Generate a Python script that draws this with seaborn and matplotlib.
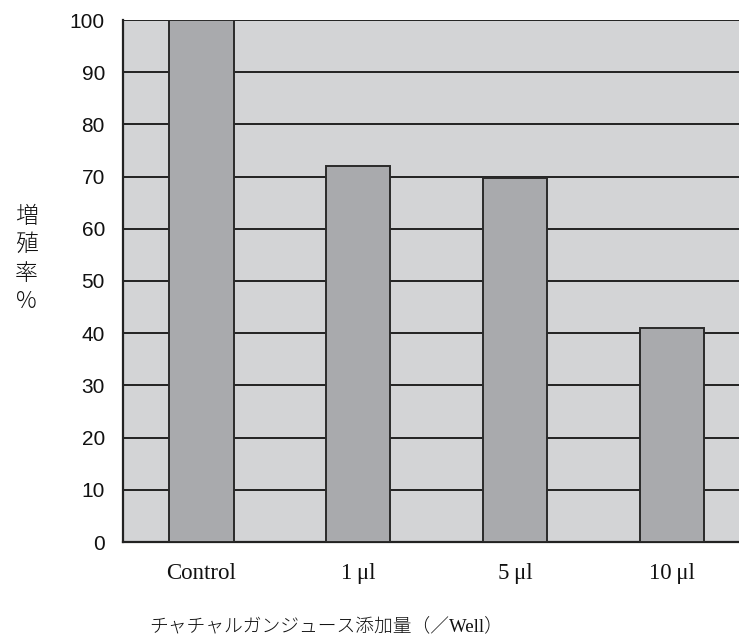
import matplotlib
matplotlib.use("Agg")
import matplotlib.pyplot as plt
import seaborn as sns
import pandas as pd

# 増殖率 (%) per dose of juice added
categories = ["Control", "1\u2009μl", "5\u2009μl", "10\u2009μl"]
values = [100.0, 72.0, 69.7, 41.0]
yticks = [0, 10, 20, 30, 40, 50, 60, 70, 80, 90, 100]

df = pd.DataFrame({"dose": categories, "rate": values})

sns.set_theme(style="white")
plt.rcParams["font.family"] = ["Liberation Sans", "Noto Sans CJK JP", "DejaVu Sans"]

W, H = 739, 639
fig = plt.figure(figsize=(W / 100, H / 100), dpi=100)
# plot area runs off the right edge of the figure
left, right, top, bottom = 123, 750.5, 20, 542
ax = fig.add_axes([left / W, 1 - bottom / H, (right - left) / W, (bottom - top) / H])
ax.set_facecolor("#d3d4d6")

sns.barplot(data=df, x="dose", y="rate", ax=ax, color="#a9aaad",
            saturation=1, width=0.41, edgecolor="#2a2a2a", linewidth=1.4,
            zorder=3)

ax.set_xlim(-0.5, 3.5)
ax.set_ylim(0, 100)
ax.set_yticks(yticks)
ax.yaxis.grid(True, color="#222222", linewidth=1.4, zorder=1)
ax.set_axisbelow(True)
for b in ax.patches:
    b.set_zorder(3)

for s in ["top", "right"]:
    ax.spines[s].set_visible(False)
for s in ["left", "bottom"]:
    ax.spines[s].set_color("#222222")
    ax.spines[s].set_linewidth(1.6)

ax.tick_params(axis="both", length=0)
ax.tick_params(axis="y", pad=13, labelsize=15, labelcolor="#111111")
ax.tick_params(axis="x", pad=15, labelcolor="#111111")
for lab in ax.get_xticklabels():
    lab.set_fontfamily(["Liberation Serif", "Noto Sans CJK JP"])
    lab.set_fontsize(16.5)

ax.set_xlabel("")
ax.set_ylabel("")

fig.text(26 / W, 1 - 259 / H, "増\n殖\n率\n%", ha="center", va="center",
         fontsize=16.5, linespacing=1.17, color="#111111", fontweight="light",
         family=["Noto Sans CJK JP", "Liberation Serif"])
fig.text(326 / W, 1 - 626 / H, "チャチャルガンジュース添加量（／Well）",
         ha="center", va="center", fontsize=13.5, color="#111111",
         fontweight="light",
         family=["Liberation Serif", "Noto Sans CJK JP"])

fig.savefig("out.png", dpi=100, facecolor="white")
